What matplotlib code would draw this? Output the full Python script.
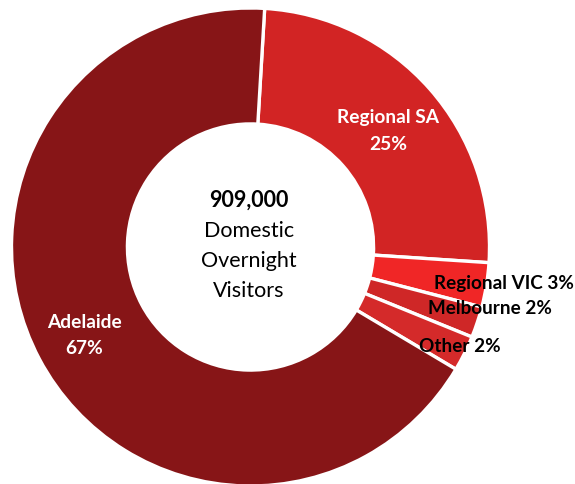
import matplotlib
matplotlib.use("Agg")
import matplotlib.pyplot as plt

categories = ["Regional SA", "Regional VIC", "Melbourne", "Other", "Adelaide"]
values = [25.1, 3.0, 2.1, 2.4, 67.4]
pct_labels = ["25%", "3%", "2%", "2%", "67%"]
colors = ["#D22424", "#F02626", "#CF2727", "#D42A2A", "#871517"]
total_text = "909,000"
center_lines = ["Domestic", "Overnight", "Visitors"]

W, H = 575, 484
fig = plt.figure(figsize=(W / 100, H / 100), dpi=100)
ax = fig.add_axes([0, 0, 1, 1])
cx, cy, R = 250.5, 247, 239

ax.pie(values, colors=colors, startangle=86.6, counterclock=False,
       radius=1.0, wedgeprops=dict(width=0.485, edgecolor="white", linewidth=2.4),
       frame=True)
ax.set_xlim(-cx / R, (W - cx) / R)
ax.set_ylim(-(H - cy) / R, cy / R)
ax.set_aspect("auto")
ax.axis("off")

fam = ["Lato", "DejaVu Sans"]

def px(x, y):
    return ((x - cx) / R, (cy - y) / R)

# Inside labels (white)
ax.text(*px(388, 118), categories[0], color="white", fontsize=13.8,
        fontweight="bold", ha="center", va="center", family=fam)
ax.text(*px(388, 144), pct_labels[0], color="white", fontsize=13.8,
        fontweight="bold", ha="center", va="center", family=fam)
ax.text(*px(84, 322), categories[4], color="white", fontsize=13.8,
        fontweight="bold", ha="center", va="center", family=fam)
ax.text(*px(84, 348), pct_labels[4], color="white", fontsize=13.8,
        fontweight="bold", ha="center", va="center", family=fam)

# Outside labels (black)
ax.text(*px(504, 283), f"{categories[1]} {pct_labels[1]}", color="black", fontsize=13.6,
        fontweight="bold", ha="center", va="center", family=fam)
ax.text(*px(490, 308), f"{categories[2]} {pct_labels[2]}", color="black", fontsize=13.6,
        fontweight="bold", ha="center", va="center", family=fam)
ax.text(*px(460, 346), f"{categories[3]} {pct_labels[3]}", color="black", fontsize=13.6,
        fontweight="bold", ha="center", va="center", family=fam)

# Center text
ax.text(*px(249, 200), total_text, color="black", fontsize=15.5, fontweight="bold",
        ha="center", va="center", family=fam)
for i, line in enumerate(center_lines):
    ax.text(*px(249, 231 + 30 * i), line, color="black", fontsize=15.5,
            ha="center", va="center", family=fam)

fig.savefig("out.png", dpi=100)
